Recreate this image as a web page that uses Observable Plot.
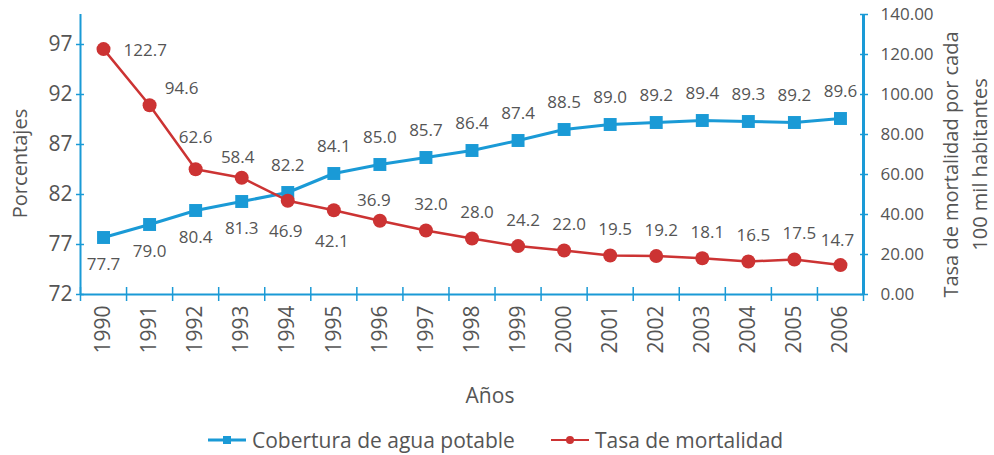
<!DOCTYPE html>
<html><head><meta charset="utf-8">
<script src="https://cdn.jsdelivr.net/npm/d3@7"></script>
<script src="https://cdn.jsdelivr.net/npm/@observablehq/plot@0.6"></script>
<style>
body{margin:0;background:#fff;font-family:"Open Sans",sans-serif;}
#wrap{position:relative;width:994px;height:455px;overflow:hidden;}
.legend{position:absolute;top:426px;left:208px;display:flex;align-items:center;height:28px;font-size:21px;line-height:28px;color:#555;white-space:nowrap;}
.legend span{margin-left:6px;}
</style></head><body><div id="wrap"></div>
<script>
const years = [1990,1991,1992,1993,1994,1995,1996,1997,1998,1999,2000,2001,2002,2003,2004,2005,2006];
const cobertura = [77.7,79.0,80.4,81.3,82.2,84.1,85.0,85.7,86.4,87.4,88.5,89.0,89.2,89.4,89.3,89.2,89.6];
const mortalidad = [122.7,94.6,62.6,58.4,46.9,42.1,36.9,32.0,28.0,24.2,22.0,19.5,19.2,18.1,16.5,17.5,14.7];
const leftTicks = [72,77,82,87,92,97];
const rightTicks = [0,20,40,60,80,100,120,140];
const seriesNames = ["Cobertura de agua potable","Tasa de mortalidad"];
const xTitle = "Años";
const yLeftTitle = "Porcentajes";
const yRightTitle = "Tasa de mortalidad por cada\n100 mil habitantes";

const BLUE = "#1a9ad6", RED = "#cc3333", TXT = "#555";
const toLeft = d3.scaleLinear().domain([0,140]).range([72,100]);
const boundaries = d3.range(years[0]-0.5, years[years.length-1]+1, 1);

const blue = years.map((year,i)=>({year, value:cobertura[i], label:cobertura[i].toFixed(1), i}));
const red = years.map((year,i)=>({year, value:toLeft(mortalidad[i]), label:mortalidad[i].toFixed(1), i}));

const lab = (data, filter, o) => Plot.text(data, {filter, x:"year", y:"value", text:"label", fontSize:17, fill:TXT, ...o});

const chart = Plot.plot({
  width:994, height:426,
  marginLeft:80, marginRight:131, marginTop:14, marginBottom:132,
  x:{domain:[years[0]-0.5, years[years.length-1]+0.5]},
  y:{domain:[72,100]},
  style:{fontFamily:"Open Sans", background:"white", overflow:"visible"},
  marks:[
    Plot.axisX(boundaries, {tickSize:14, dy:-7, text:null, stroke:BLUE, strokeWidth:1.5, label:null}),
    Plot.axisX(years, {tickSize:0, tickPadding:11, tickRotate:-90, fontSize:21, fill:TXT, tickFormat:d=>String(d), label:null}),
    Plot.axisY(leftTicks, {anchor:"left", tickSize:8, dx:4, tickPadding:4, fontSize:21, stroke:BLUE, strokeWidth:1.5, fill:TXT, label:null}),
    Plot.axisY(rightTicks.map(toLeft), {anchor:"right", tickSize:8, dx:-4, tickPadding:13, fontSize:17, stroke:BLUE, strokeWidth:1.5, fill:TXT, tickFormat:d=>toLeft.invert(d).toFixed(2), label:null}),
    Plot.ruleX([boundaries[0]], {y1:72, y2:100, stroke:BLUE, strokeWidth:2}),
    Plot.ruleX([boundaries[boundaries.length-1]], {y1:72, y2:100, stroke:BLUE, strokeWidth:3}),
    Plot.ruleY([72], {x1:boundaries[0], x2:boundaries[boundaries.length-1], stroke:BLUE, strokeWidth:2}),
    Plot.line(blue, {x:"year", y:"value", stroke:BLUE, strokeWidth:3}),
    Plot.dot(blue, {x:"year", y:"value", symbol:"square", r:7.3, fill:BLUE}),
    Plot.line(red, {x:"year", y:"value", stroke:RED, strokeWidth:2.5}),
    Plot.dot(red, {x:"year", y:"value", r:7, fill:RED}),
    lab(blue, d=>d.i<4, {dy:27}),
    lab(blue, d=>d.i>=4, {dy:-27}),
    lab(red, d=>d.i===0, {textAnchor:"start", dx:20, dy:1}),
    lab(red, d=>d.i===1, {dx:32, dy:-17}),
    lab(red, d=>d.i===2, {dy:-32}),
    lab(red, d=>d.i===3, {dx:-4, dy:-20}),
    lab(red, d=>d.i===4||d.i===5, {dx:-2, dy:31}),
    lab(red, d=>d.i===6, {dx:-6, dy:-20}),
    lab(red, d=>d.i>=7 && d.i<16, {dx:5, dy:-26}),
    lab(red, d=>d.i===16, {dx:-3, dy:-25}),
    Plot.text([yLeftTitle], {frameAnchor:"left", textAnchor:"middle", rotate:-90, dx:-60, dy:9, fontSize:20, fill:TXT}),
    Plot.text([yRightTitle], {frameAnchor:"right", textAnchor:"middle", rotate:-90, dx:100, dy:10, fontSize:20, lineHeight:1.45, fill:TXT}),
    Plot.text([xTitle], {frameAnchor:"bottom", textAnchor:"middle", dx:18, dy:108, fontSize:21, fill:TXT})
  ]
});
const wrap = document.getElementById("wrap");
wrap.appendChild(chart);
const leg = document.createElement("div");
leg.className = "legend";
leg.innerHTML =
 `<svg width="38" height="12"><line x1="0" x2="38" y1="6" y2="6" stroke="${BLUE}" stroke-width="3"/><rect x="15" y="2" width="8" height="8" fill="${BLUE}"/></svg><span>${seriesNames[0]}</span>` +
 `<svg width="38" height="12" style="margin-left:36px"><line x1="0" x2="38" y1="6" y2="6" stroke="${RED}" stroke-width="2"/><circle cx="19" cy="6" r="4" fill="${RED}"/></svg><span>${seriesNames[1]}</span>`;
wrap.appendChild(leg);
</script>
</body></html>
